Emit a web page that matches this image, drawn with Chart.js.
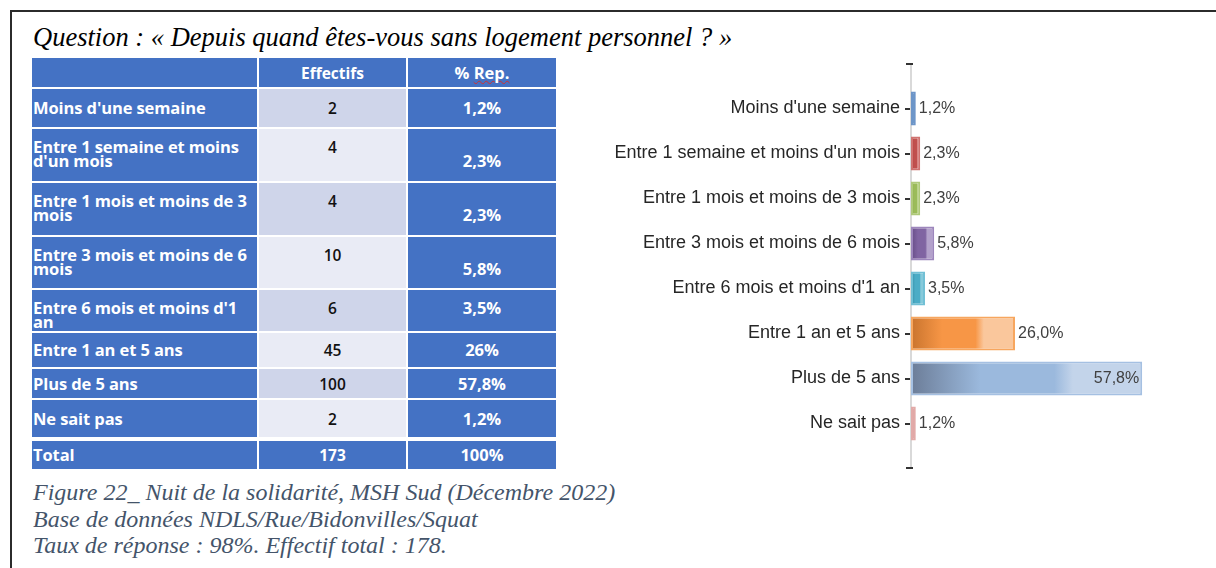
<!DOCTYPE html>
<html lang="fr">
<head>
  <meta charset="UTF-8" />
  <title>Depuis quand êtes-vous sans logement personnel ?</title>
  <script src="https://cdn.jsdelivr.net/npm/chart.js"></script>
  <style>
    html, body { margin: 0; padding: 0; background: #fff; }
    body { width: 1216px; height: 568px; position: relative; overflow: hidden; }
    #frame { position: absolute; left: 10px; top: 10px; width: 1300px; height: 700px;
             border-left: 2px solid #2b2b2b; border-top: 2px solid #2b2b2b; }
    #question { position: absolute; left: 33px; top: 22px; font: italic 26.5px "Liberation Serif", serif; color: #000; white-space: nowrap; }
    #tbl { position: absolute; left: 32px; top: 58px; display: grid;
           grid-template-columns: 225px 147px 148px; column-gap: 2px; row-gap: 2px;
           font-family: "Open Sans", Lato, sans-serif; font-size: 16.5px; font-weight: 700; }
    #tbl div { box-sizing: border-box; display: flex; align-items: center; line-height: 14px; white-space: nowrap; }
    .lab { background: #4472C4; color: #fff; padding-left: 1px; letter-spacing: -0.1px; }
    .num { justify-content: center; color: #111; font-weight: 600 !important; font-size: 15.5px; }
    .pct { background: #4472C4; color: #fff; justify-content: center; }
    .dark { background: #CFD5EA; }
    .light { background: #E9EBF5; }
    .head { background: #4472C4 !important; color: #fff !important; font-weight: 700 !important; }
    .top { align-items: flex-start !important; padding-top: 11px; }
    .second { padding-top: 25px; }
    .total { margin-top: 2px; }
    .wavy { text-decoration: underline wavy #d03030; text-decoration-thickness: 1px; }
    #caption { position: absolute; left: 33px; top: 479px; font: italic 24px "Liberation Serif", serif; color: #44546A; line-height: 26.5px; white-space: nowrap; }
    #wrap { position: absolute; left: 570px; top: 40px; width: 640px; height: 460px; }
  </style>
</head>
<body>
  <div id="frame"></div>
  <div id="question">Question : « Depuis quand êtes-vous sans logement personnel ? »</div>
  <div id="tbl"></div>
  <div id="caption">Figure 22_ Nuit de la solidarité, MSH Sud (Décembre 2022)<br>Base de données NDLS/Rue/Bidonvilles/Squat<br>Taux de réponse : 98%. Effectif total : 178.</div>
  <div id="wrap"><canvas id="chart" width="640" height="460"></canvas></div>

  <script>
    // data
    const categories = ["Moins d'une semaine", "Entre 1 semaine et moins d'un mois", "Entre 1 mois et moins de 3 mois",
      "Entre 3 mois et moins de 6 mois", "Entre 6 mois et moins d'1 an", "Entre 1 an et 5 ans", "Plus de 5 ans", "Ne sait pas"];
    const tableLabels = ["Moins d'une semaine", "Entre 1 semaine et moins<br>d'un mois", "Entre 1 mois et moins de 3<br>mois",
      "Entre 3 mois et moins de 6<br>mois", "Entre 6 mois et moins d'1<br>an", "Entre 1 an et 5 ans", "Plus de 5 ans", "Ne sait pas"];
    const effectifs = [2, 4, 4, 10, 6, 45, 100, 2];
    const tablePct = ["1,2%", "2,3%", "2,3%", "5,8%", "3,5%", "26%", "57,8%", "1,2%"];
    const chartPct = [1.2, 2.3, 2.3, 5.8, 3.5, 26.0, 57.8, 1.2];
    const totalEffectif = 173;
    const totalPct = "100%";

    // styles
    const rowHeights = [29, 38, 52, 52, 51, 41, 34, 29, 37, 30];
    const pctSecondLine = [false, true, true, true, false, false, false, false];
    const palette = [
      { base: "#4F81BD", dark: "#3A6396", light: "#7FA3D2", edge: "#6D95C8" },
      { base: "#C0504D", dark: "#9A3B39", light: "#D98583", edge: "#D07370" },
      { base: "#9BBB59", dark: "#7D9A43", light: "#BBD38A", edge: "#AFC97A" },
      { base: "#8064A2", dark: "#654C85", light: "#B3A1CB", edge: "#9D86BC" },
      { base: "#4BACC6", dark: "#348BA3", light: "#86CADB", edge: "#72C0D5" },
      { base: "#F79646", dark: "#C9742E", light: "#FAC79C", edge: "#F7A65E" },
      { base: "#9BB9DD", dark: "#6C7D98", light: "#C3D4EA", edge: "#A5C0E2" },
      { base: "#D99694", dark: "#C07774", light: "#EBC0BF", edge: "#E2AAA8" }
    ];

    // table
    const tbl = document.getElementById("tbl");
    tbl.style.gridTemplateRows = rowHeights.map(h => h + "px").join(" ");
    function cell(html, cls) {
      const d = document.createElement("div");
      d.className = cls;
      d.innerHTML = html;
      tbl.appendChild(d);
    }
    cell("", "lab");
    cell("Effectifs", "num head");
    cell('%&nbsp;<span class="wavy">Rep.</span>', "pct");
    categories.forEach((c, i) => {
      const multi = tableLabels[i].includes("<br>");
      const shade = i % 2 === 0 ? "dark" : "light";
      cell(tableLabels[i], "lab" + (multi ? " top" : ""));
      cell(String(effectifs[i]), "num " + shade + (multi ? " top" : ""));
      cell(tablePct[i], "pct" + (multi ? " top" : "") + (pctSecondLine[i] ? " second" : ""));
    });
    cell("Total", "lab total");
    cell(String(totalEffectif), "num head total");
    cell(totalPct, "pct total");

    // chart
    const fmt = v => v.toFixed(1).replace(".", ",") + "%";

    function barFill(ctx) {
      const chart = ctx.chart;
      const p = palette[ctx.dataIndex];
      if (!chart.chartArea || !chart.scales.x) return p.base;
      const x0 = chart.scales.x.getPixelForValue(0);
      const x1 = chart.scales.x.getPixelForValue(chartPct[ctx.dataIndex]);
      const g = chart.ctx.createLinearGradient(x0, 0, Math.max(x1, x0 + 1), 0);
      g.addColorStop(0, p.dark);
      g.addColorStop(0.3, p.base);
      g.addColorStop(0.62, p.base);
      g.addColorStop(0.7, p.light);
      g.addColorStop(1, p.light);
      return g;
    }

    const valueLabels = {
      id: "valueLabels",
      afterDatasetsDraw(chart) {
        const c = chart.ctx;
        const meta = chart.getDatasetMeta(0);
        c.save();
        c.font = '16px "Liberation Sans", Arial, sans-serif';
        c.fillStyle = "#404040";
        c.textBaseline = "middle";
        meta.data.forEach((bar, i) => {
          const t = fmt(chartPct[i]);
          const w = c.measureText(t).width;
          if (bar.x + 3 + w > chart.chartArea.right) {
            c.textAlign = "right";
            c.fillText(t, bar.x - 3, bar.y);
          } else {
            c.textAlign = "left";
            c.fillText(t, bar.x + 3, bar.y);
          }
        });
        c.restore();
      }
    };

    // axis line runs past the first and last category, with end marks
    const axisEnds = {
      id: "axisEnds",
      beforeDatasetsDraw(chart) {
        const c = chart.ctx;
        const x = chart.scales.x.getPixelForValue(0);
        const top = chart.chartArea.top - 22, bottom = chart.chartArea.bottom + 22;
        c.save();
        c.strokeStyle = "#D9D9D9";
        c.lineWidth = 2;
        c.beginPath();
        c.moveTo(x, top);
        c.lineTo(x, bottom);
        c.stroke();
        c.strokeStyle = "#333";
        c.lineWidth = 2;
        c.beginPath();
        c.moveTo(x - 5, top); c.lineTo(x + 2, top);
        c.moveTo(x - 5, bottom); c.lineTo(x + 2, bottom);
        c.stroke();
        c.restore();
      }
    };

    new Chart(document.getElementById("chart"), {
      type: "bar",
      data: {
        labels: categories,
        datasets: [{
          data: chartPct,
          backgroundColor: barFill,
          borderColor: palette.map(p => p.edge),
          borderWidth: 2,
          borderSkipped: false,
          barPercentage: 0.76,
          categoryPercentage: 1
        }]
      },
      options: {
        indexAxis: "y",
        responsive: false,
        animation: false,
        layout: { padding: { top: 46, bottom: 54, right: 59, left: 0 } },
        plugins: { legend: { display: false }, tooltip: { enabled: false } },
        scales: {
          x: { display: false, min: 0, max: 60 },
          y: {
            afterFit(scale) { scale.width = 341; },
            grid: { drawOnChartArea: false, offset: false, drawTicks: true, tickLength: 6, tickColor: "#333", lineWidth: 2 },
            border: { display: false },
            ticks: { color: "#262626", padding: 5, font: { family: '"Liberation Sans", Arial, sans-serif', size: 18 } }
          }
        }
      },
      plugins: [axisEnds, valueLabels]
    });
  </script>
</body>
</html>
